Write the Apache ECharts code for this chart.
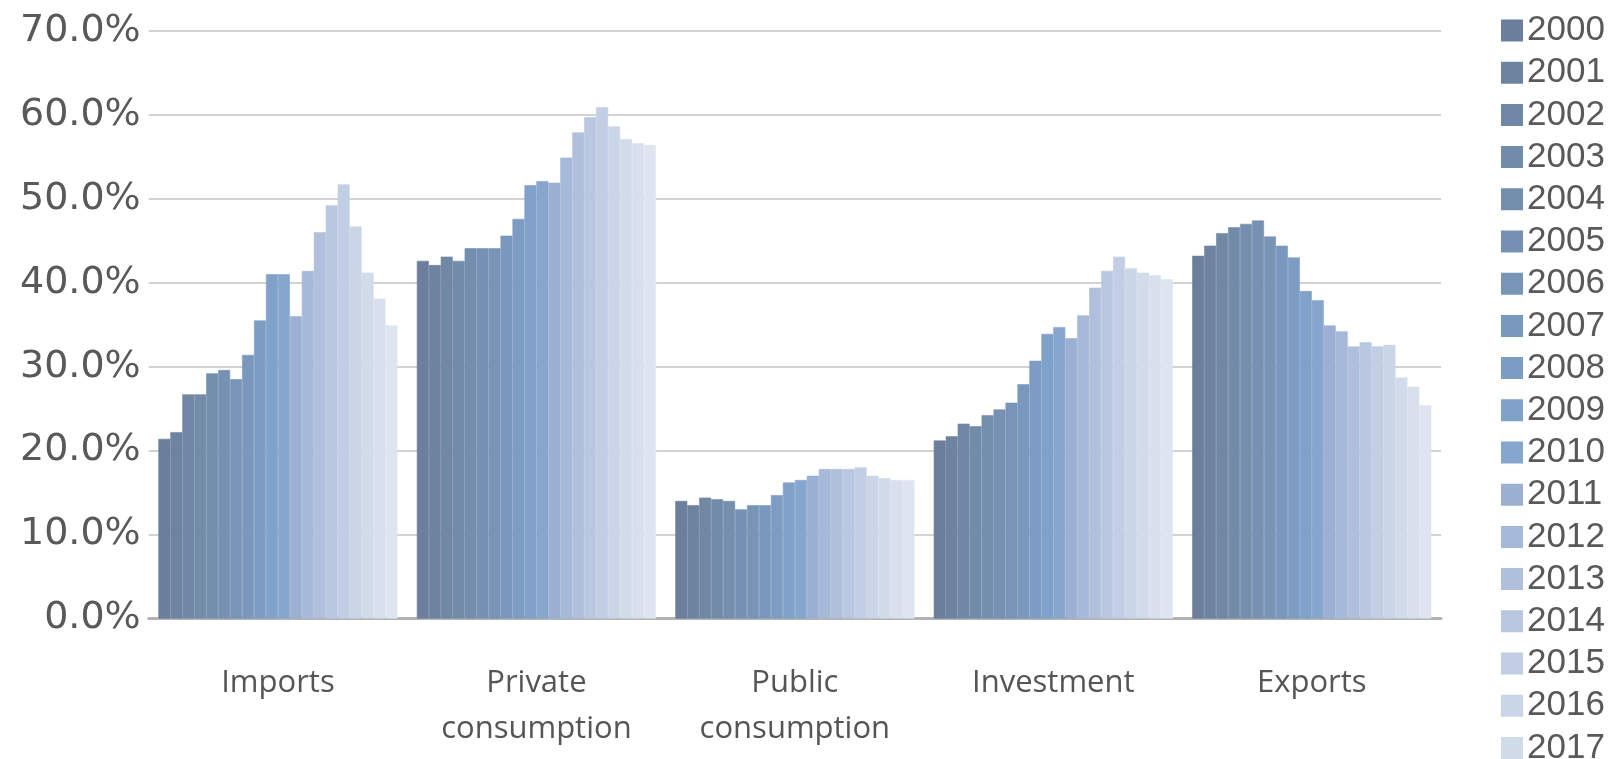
<!DOCTYPE html>
<html>
<head>
<meta charset="utf-8">
<script src="https://cdn.jsdelivr.net/npm/echarts@6/dist/echarts.min.js"></script>
<style>
html,body{margin:0;padding:0;background:#fff;}
#chart{width:1608px;height:759px;}
</style>
</head>
<body>
<div id="chart"></div>
<script>
// Categories (x axis)
const categories = ['Imports', 'Private\nconsumption', 'Public\nconsumption', 'Investment', 'Exports'];
// Series names (years)
const years = ['2000','2001','2002','2003','2004','2005','2006','2007','2008','2009',
               '2010','2011','2012','2013','2014','2015','2016','2017','2018','2019'];
// Values per category, one per year (percent)
const imports     = [21.4, 22.2, 26.7, 26.7, 29.2, 29.6, 28.5, 31.4, 35.5, 41.0, 41.0, 36.0, 41.4, 46.0, 49.2, 51.7, 46.7, 41.2, 38.1, 34.9];
const privateCons = [42.6, 42.1, 43.1, 42.6, 44.1, 44.1, 44.1, 45.6, 47.6, 51.6, 52.1, 51.9, 54.9, 57.9, 59.7, 60.9, 58.6, 57.1, 56.6, 56.4];
const publicCons  = [14.0, 13.5, 14.4, 14.2, 14.0, 13.0, 13.5, 13.5, 14.7, 16.2, 16.5, 17.0, 17.8, 17.8, 17.8, 18.0, 17.0, 16.7, 16.5, 16.5];
const investment  = [21.2, 21.7, 23.2, 22.9, 24.2, 24.9, 25.7, 27.9, 30.7, 33.9, 34.7, 33.4, 36.1, 39.4, 41.4, 43.1, 41.7, 41.2, 40.9, 40.4];
const exportsVals = [43.2, 44.4, 45.9, 46.6, 47.0, 47.4, 45.5, 44.4, 43.0, 39.0, 37.9, 34.9, 34.2, 32.4, 32.9, 32.4, 32.6, 28.7, 27.6, 25.4];
// Y axis ticks
const yTicks = { min: 0, max: 70, interval: 10 };

const colors = ['#6b7e9b','#6d83a0','#7087a5','#728ba9','#748eae','#7691b3','#7895b8','#7a98bd','#7d9cc3','#7fa1ca',
                '#87a6ce','#9cb0d3','#a6b9d9','#b0c0dc','#b9c7e0','#c2cee4','#cbd5e8','#d2dbea','#d9e0ed','#dfe5f0'];

const byCategory = [imports, privateCons, publicCons, investment, exportsVals];

const series = years.map((y, i) => ({
  name: y,
  type: 'bar',
  barGap: '0%',
  barCategoryGap: '7.5%',
  itemStyle: { color: colors[i], borderColor: colors[i], borderWidth: 0.6 },
  emphasis: { disabled: true },
  data: byCategory.map(arr => arr[i])
}));

const chart = echarts.init(document.getElementById('chart'), null, { renderer: 'canvas' });
chart.setOption({
  animation: false,
  backgroundColor: '#ffffff',
  color: colors,
  grid: { left: 148.7, right: 167, top: 30.8, bottom: 140.5, containLabel: false },
  legend: {
    orient: 'vertical',
    left: 1496,
    top: 8,
    height: 1000,
    itemWidth: 20,
    itemHeight: 20,
    itemGap: 7.2,
    icon: 'rect',
    textStyle: { fontFamily: 'Liberation Sans', fontSize: 35, color: '#595959', lineHeight: 33 },
    data: years
  },
  xAxis: {
    type: 'category',
    data: categories,
    axisLine: { show: true, lineStyle: { color: '#b3b3b3', width: 3 } },
    axisTick: { show: false },
    axisLabel: {
      margin: 42,
      fontFamily: 'Open Sans',
      fontSize: 31,
      lineHeight: 46,
      color: '#555555',
      interval: 0
    }
  },
  yAxis: {
    type: 'value',
    min: yTicks.min,
    max: yTicks.max,
    interval: yTicks.interval,
    axisLine: { show: false },
    axisTick: { show: false },
    splitLine: { lineStyle: { color: '#c4c4c4', width: 1.5 } },
    axisLabel: {
      margin: 8,
      fontFamily: 'DejaVu Sans',
      fontSize: 38,
      color: '#595959',
      formatter: v => v.toFixed(1) + '%'
    }
  },
  series: series
});
</script>
</body>
</html>
